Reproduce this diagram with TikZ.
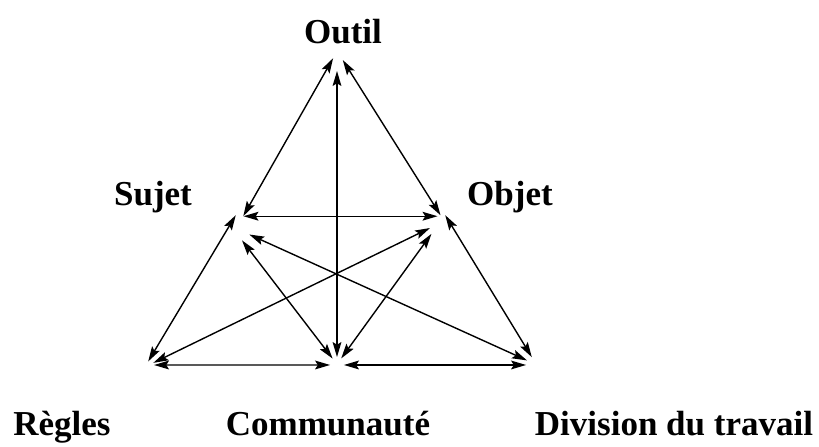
\documentclass[tikz,border=0pt]{standalone}
\usepackage{fontspec}
\setmainfont{Liberation Serif}
\usetikzlibrary{arrows.meta, positioning}
\tikzset{
    pole/.style={circle, inner sep=0pt, outer sep=0pt},
    concept/.style={anchor=base, inner sep=0pt, font=\fontsize{17.5}{21}\selectfont\bfseries},
    arrow/.style={<->, >={Stealth[length=7.5pt, width=4.4pt, inset=1.4pt]}, line width=0.7pt}
}

\begin{document}
\begin{tikzpicture}[x=0.5pt, y=-0.5pt]
    \useasboundingbox (0,0) rectangle (819,446);

    % Corners
    \node (outil) [pole, minimum size=7pt] at (337,64) {};
    \node (sujet) [pole, minimum size=13pt] at (238,228) {};
    \node (objet) [pole, minimum size=13pt] at (443,228) {};
    \node (regles) [pole, minimum size=4pt] at (150,365) {};
    \node (comm) [pole, minimum size=7pt] at (337,364) {};
    \node (div) [pole, minimum size=7pt] at (533,364) {};

    % Labels
    \node (outil-txt) [concept] at (343,43) {Outil};
    \node (sujet-txt) [concept] at (153,205) {Sujet};
    \node (objet-txt) [concept] at (510,205) {Objet};
    \node (regles-txt) [concept] at (62,435) {Règles};
    \node (comm-txt) [concept] at (328,435) {Communauté};
    \node (div-txt) [concept] at (674,435) {Division du travail};

    % Edges
    \draw [arrow] (outil.124) -- (sujet.66);
    \draw [arrow] (outil.34) -- (objet.101);
    \draw [arrow] (outil.-90) -- (comm.90);
    \draw [arrow] (sujet.65) -- (objet.115);
    \draw [arrow] (sujet.100) -- (regles.117);
    \draw [arrow] (sujet.-72) -- (comm.129);
    \draw [arrow] (sujet.-30) -- (div.149);
    \draw [arrow] (objet.180) -- (regles.33);
    \draw [arrow] (objet.207) -- (comm.53);
    \draw [arrow] (objet.80) -- (div.100);
    \draw [arrow] (regles.0) -- (comm.188);
    \draw [arrow] (comm.-8) -- (div.188);
\end{tikzpicture}
\end{document}
